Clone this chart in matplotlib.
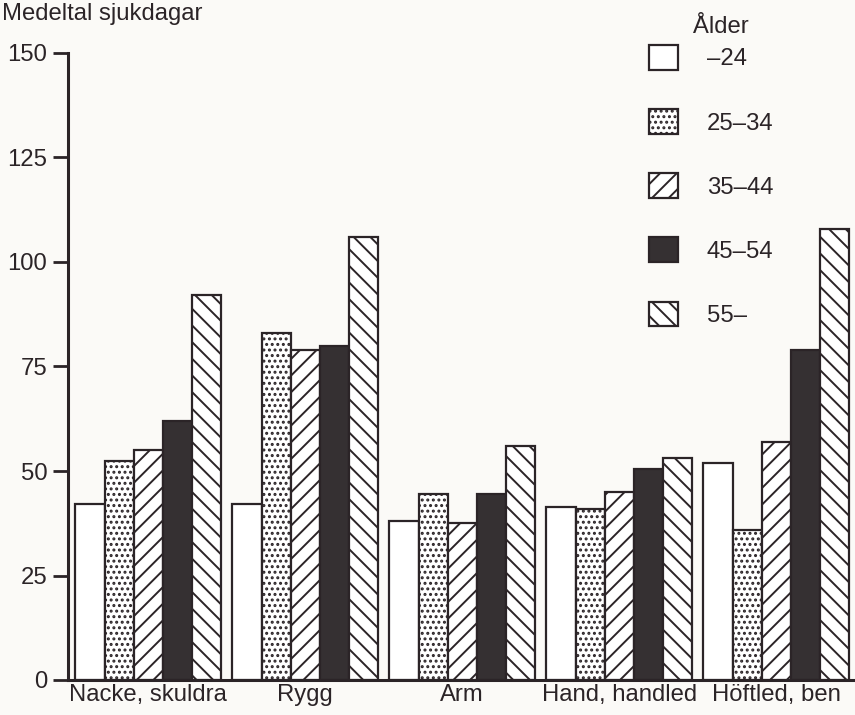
import matplotlib
matplotlib.use('Agg')

import matplotlib.pyplot as plt
import numpy as np

categories = ["Nacke, skuldra", "Rygg", "Arm", "Hand, handled", "Höftled, ben"]
age_groups = ["–24", "25–34", "35–44", "45–54", "55–"]

# medeltal sjukdagar per age group, one list per group
v_24 = [42, 42, 38, 41.5, 52]
v_25_34 = [52.5, 83, 44.5, 41, 36]
v_35_44 = [55, 79, 37.5, 45, 57]
v_45_54 = [62, 80, 44.5, 50.5, 79]
v_55 = [92, 106, 56, 53, 108]
series = [v_24, v_25_34, v_35_44, v_45_54, v_55]

yticks = [0, 25, 50, 75, 100, 125, 150]

ink = '#2b2427'
dark = '#353032'
paper = '#fbfaf7'
styles = [('white', ''), ('white', '...'), ('white', '//'), (dark, ''), ('white', '\\\\')]
fs = 17.2

plt.rcParams['font.family'] = ['Liberation Sans', 'DejaVu Sans']
plt.rcParams['hatch.linewidth'] = 1.4
plt.rcParams['hatch.color'] = ink

fig = plt.figure(figsize=(8.55, 7.15), dpi=100, facecolor=paper)
ax = fig.add_axes([68/855, 1-680/715, (853-68)/855, (680-53)/715])
ax.set_facecolor(paper)

x = np.arange(len(categories))
w = 0.185
handles = []
for j, vals in enumerate(series):
    fc, hatch = styles[j]
    b = ax.bar(x + (j-2)*w, vals, w, color=fc, hatch=hatch,
               edgecolor=ink, linewidth=1.6, label=age_groups[j])
    handles.append(b)

ax.set_xlim(-0.51, 4.49)
ax.set_ylim(0, 150)
ax.set_yticks(yticks)
ax.set_xticks(x)
ax.set_xticklabels(categories)
ax.tick_params(axis='x', length=0, pad=3, labelsize=fs, labelcolor=ink)
ax.tick_params(axis='y', direction='out', length=11, width=2, color=ink,
               pad=4, labelsize=fs, labelcolor=ink)
for s in ['top', 'right']:
    ax.spines[s].set_visible(False)
for s in ['left', 'bottom']:
    ax.spines[s].set_linewidth(2.2)
    ax.spines[s].set_color(ink)

fig.text(0.002, 1-20/715, "Medeltal sjukdagar", fontsize=fs, color=ink,
         va='baseline', ha='left')
fig.text(693/855, 1-33/715, "Ålder", fontsize=fs, color=ink,
         va='baseline', ha='left')

leg = fig.legend(handles=handles, labels=age_groups, loc='upper left',
                 bbox_to_anchor=(649/855, 1-45/715), frameon=False,
                 fontsize=fs, handlelength=1.22, handleheight=1.22,
                 handletextpad=1.2, labelspacing=1.62, borderpad=0,
                 borderaxespad=0)
for t in leg.get_texts():
    t.set_color(ink)

fig.savefig('out.png', dpi=100, facecolor=paper)
